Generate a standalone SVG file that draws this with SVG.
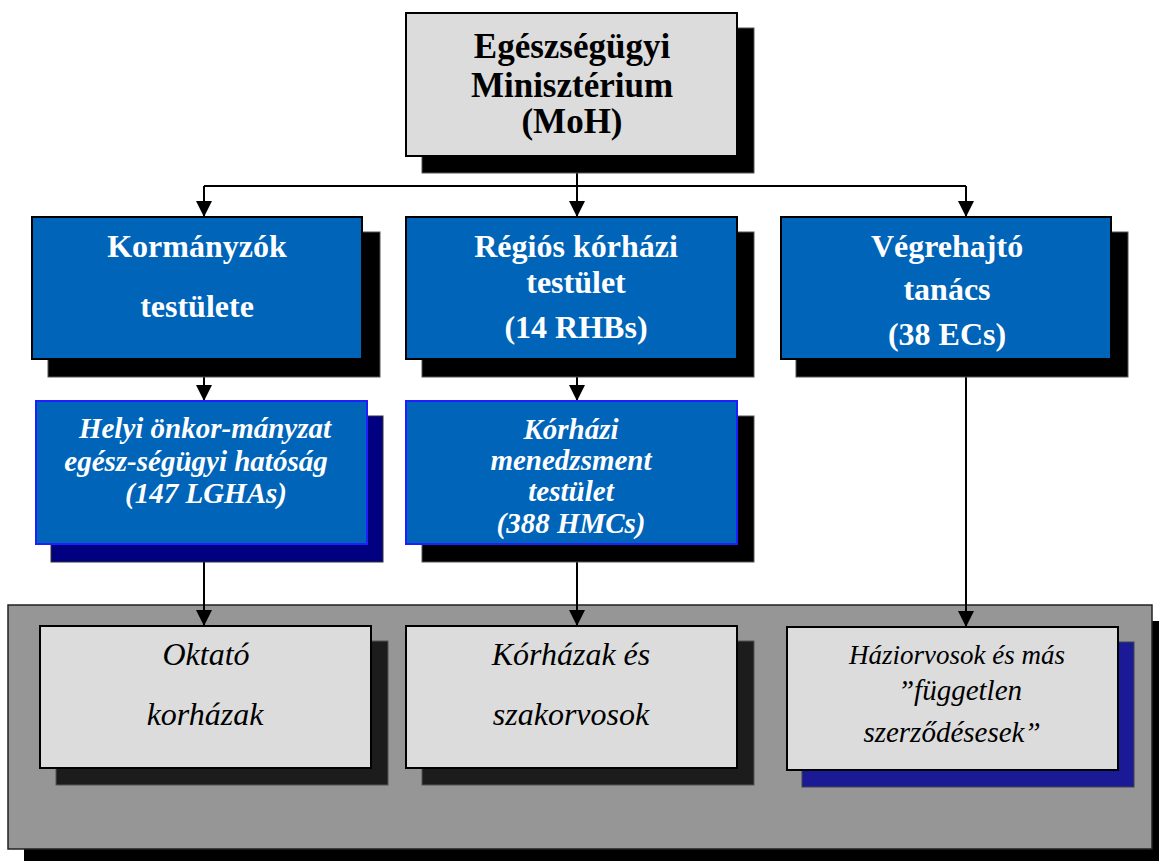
<svg xmlns="http://www.w3.org/2000/svg" width="1159" height="861" viewBox="0 0 1159 861">
  <defs>
    <style>
      .box { stroke: #000; stroke-width: 2; }
      .grey { fill: #dcdcdc; }
      .blue { fill: #0064b8; }
      .shadow { fill: #000; stroke: #555; stroke-width: 1; }
      .navy { fill: #000080; stroke: #333; stroke-width: 1; }
      .dark { fill: #1c1c1c; stroke: #555; stroke-width: 1; }
      .ink { fill: #1a1a96; stroke: #444; stroke-width: 1; }
      text { font-family: "Liberation Serif", "Times New Roman", serif; text-anchor: middle; }
      .tb { font-weight: bold; font-size: 35px; fill: #000; }
      .wb { font-weight: bold; font-size: 32px; fill: #fff; }
      .wi { font-weight: bold; font-style: italic; font-size: 29px; fill: #fff; }
      .bi { font-style: italic; font-size: 32px; fill: #000; }
      .conn { stroke: #000; stroke-width: 2; fill: none; }
    </style>
    <marker id="arrow" markerWidth="16" markerHeight="16" refX="15" refY="8" orient="auto" markerUnits="userSpaceOnUse" viewBox="0 0 16 16">
      <path d="M0,0 L16,8 L0,16 z" fill="#000"/>
    </marker>
  </defs>

  <rect width="1159" height="861" fill="#fff"/>

  <!-- provider panel with drop shadow -->
  <g id="panel">
    <rect x="24" y="621" width="1145" height="250" fill="#000"/>
    <rect x="8" y="605" width="1144" height="244" fill="#969696" stroke="#222" stroke-width="1.5"/>
  </g>

  <!-- connectors -->
  <g id="connectors">
    <line class="conn" x1="577" y1="156" x2="577" y2="186"/>
    <line class="conn" x1="204" y1="186" x2="966" y2="186"/>
    <line class="conn" x1="204" y1="186" x2="204" y2="216" marker-end="url(#arrow)"/>
    <line class="conn" x1="577" y1="186" x2="577" y2="216" marker-end="url(#arrow)"/>
    <line class="conn" x1="966" y1="186" x2="966" y2="216" marker-end="url(#arrow)"/>
    <line class="conn" x1="204" y1="377" x2="204" y2="400" marker-end="url(#arrow)"/>
    <line class="conn" x1="577" y1="377" x2="577" y2="400" marker-end="url(#arrow)"/>
    <line class="conn" x1="204" y1="544" x2="204" y2="625" marker-end="url(#arrow)"/>
    <line class="conn" x1="577" y1="544" x2="577" y2="625" marker-end="url(#arrow)"/>
    <line class="conn" x1="966" y1="359" x2="966" y2="626" marker-end="url(#arrow)"/>
  </g>

  <!-- ministry -->
  <g id="moh">
    <rect class="shadow" x="422" y="28" width="332" height="145"/>
    <rect class="box grey" x="406" y="13" width="331" height="143"/>
    <text class="tb" x="572" y="58">Egészségügyi</text>
    <text class="tb" x="572" y="97">Minisztérium</text>
    <text class="tb" x="572" y="133">(MoH)</text>
  </g>

  <g id="kormanyzok">
    <rect class="shadow" x="48" y="232" width="332" height="145"/>
    <rect class="box blue" x="32" y="217" width="330" height="142"/>
    <text class="wb" x="197" y="257">Kormányzók</text>
    <text class="wb" x="197" y="317">testülete</text>
  </g>

  <g id="regios">
    <rect class="shadow" x="422" y="232" width="332" height="145"/>
    <rect class="box blue" x="406" y="217" width="331" height="142"/>
    <text class="wb" x="576" y="257">Régiós kórházi</text>
    <text class="wb" x="576" y="293">testület</text>
    <text class="wb" x="576" y="338">(14 RHBs)</text>
  </g>

  <g id="vegrehajto">
    <rect class="shadow" x="796" y="232" width="332" height="145"/>
    <rect class="box blue" x="781" y="217" width="330" height="142"/>
    <text class="wb" x="947" y="257">Végrehajtó</text>
    <text class="wb" x="947" y="300">tanács</text>
    <text class="wb" x="947" y="345">(38 ECs)</text>
  </g>

  <g id="helyi">
    <rect class="navy" x="51" y="416" width="332" height="146"/>
    <rect class="blue" x="36" y="401" width="331" height="143" stroke="#1e1eff" stroke-width="2"/>
    <text class="wi" x="205" y="438">Helyi önkor-mányzat</text>
    <text class="wi" x="196" y="471">egész-ségügyi hatóság</text>
    <text class="wi" x="206" y="503">(147 LGHAs)</text>
  </g>

  <g id="korhazi">
    <rect class="shadow" x="422" y="416" width="332" height="146"/>
    <rect class="blue" x="406" y="401" width="331" height="143" stroke="#1e1eff" stroke-width="2"/>
    <text class="wi" x="571" y="439">Kórházi</text>
    <text class="wi" x="571" y="470">menedzsment</text>
    <text class="wi" x="571" y="501">testület</text>
    <text class="wi" x="571" y="533">(388 HMCs)</text>
  </g>

  <g id="oktato">
    <rect class="dark" x="56" y="641" width="332" height="144"/>
    <rect class="box grey" x="40" y="626" width="331" height="142"/>
    <text class="bi" x="206" y="665">Oktató</text>
    <text class="bi" x="205" y="725">korházak</text>
  </g>

  <g id="korhazak">
    <rect class="dark" x="422" y="641" width="332" height="144"/>
    <rect class="box grey" x="406" y="626" width="331" height="142"/>
    <text class="bi" x="571" y="665">Kórházak és</text>
    <text class="bi" x="571" y="725">szakorvosok</text>
  </g>

  <g id="haziorvosok">
    <rect class="ink" x="802" y="642" width="332" height="145"/>
    <rect class="box grey" x="787" y="627" width="331" height="143"/>
    <text class="bi" x="957" y="664" style="font-size:27px">Háziorvosok és más</text>
    <text class="bi" x="960" y="700" style="font-size:29px">”független</text>
    <text class="bi" x="952" y="742" style="font-size:29px">szerződésesek”</text>
  </g>
</svg>
